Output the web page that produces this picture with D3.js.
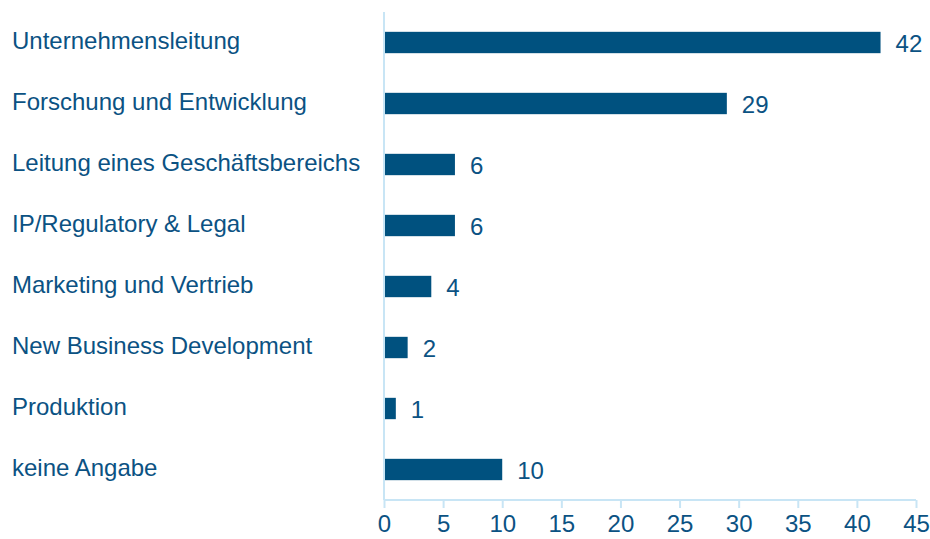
<!DOCTYPE html>
<html><head><meta charset="utf-8">
<script src="https://cdn.jsdelivr.net/npm/d3@7"></script>
<style>body{margin:0;background:#fff;} text{font-family:"Liberation Sans",Arial,sans-serif;}</style>
</head><body><svg id="c" width="930" height="539"></svg>
<script>
const categories = ["Unternehmensleitung","Forschung und Entwicklung","Leitung eines Geschäftsbereichs","IP/Regulatory & Legal","Marketing und Vertrieb","New Business Development","Produktion","keine Angabe"];
const values = [42,29,6,6,4,2,1,10];
const ticks = [0,5,10,15,20,25,30,35,40,45];

const svg = d3.select("#c");
const x = d3.scaleLinear().domain([0,45]).range([384,916]);
const y = d3.scaleBand().domain(categories).range([12,500]).paddingInner(0.65).paddingOuter(0.325);
const barColor = "#00517f", textColor = "#0b5283", axisColor = "#c8e5f5";

svg.selectAll("rect.bar").data(values).join("rect")
  .attr("x", x(0)+1).attr("y",(d,i)=>y(categories[i]))
  .attr("width", d=>x(d)-x(0)-1).attr("height", y.bandwidth())
  .attr("fill", barColor);

svg.append("line").attr("x1",384).attr("x2",384).attr("y1",12).attr("y2",500)
  .attr("stroke",axisColor).attr("stroke-width",2);

const ax = svg.append("g").attr("transform","translate(0,500)")
  .call(d3.axisBottom(x).tickValues(ticks).tickSize(8).tickPadding(7).tickFormat(d3.format("d")));
ax.select(".domain").attr("stroke",axisColor).attr("stroke-width",2).attr("d","M384,0H916");
ax.selectAll(".tick line").attr("stroke",axisColor).attr("stroke-width",2);
ax.selectAll(".tick text").attr("fill",textColor).attr("font-size","24px")
  .attr("font-family","'Liberation Sans',Arial,sans-serif");

svg.selectAll("text.cat").data(categories).join("text").attr("class","cat")
  .attr("x",12).attr("y",d=>y(d)+y.bandwidth()/2-1.5).attr("dy","0.35em")
  .attr("fill",textColor).attr("font-size","24px").text(d=>d);

svg.selectAll("text.val").data(values).join("text").attr("class","val")
  .attr("x",d=>x(d)+15).attr("y",(d,i)=>y(categories[i])+y.bandwidth()/2+1).attr("dy","0.35em")
  .attr("fill",textColor).attr("font-size","24px").text(d=>d);
</script></body></html>
